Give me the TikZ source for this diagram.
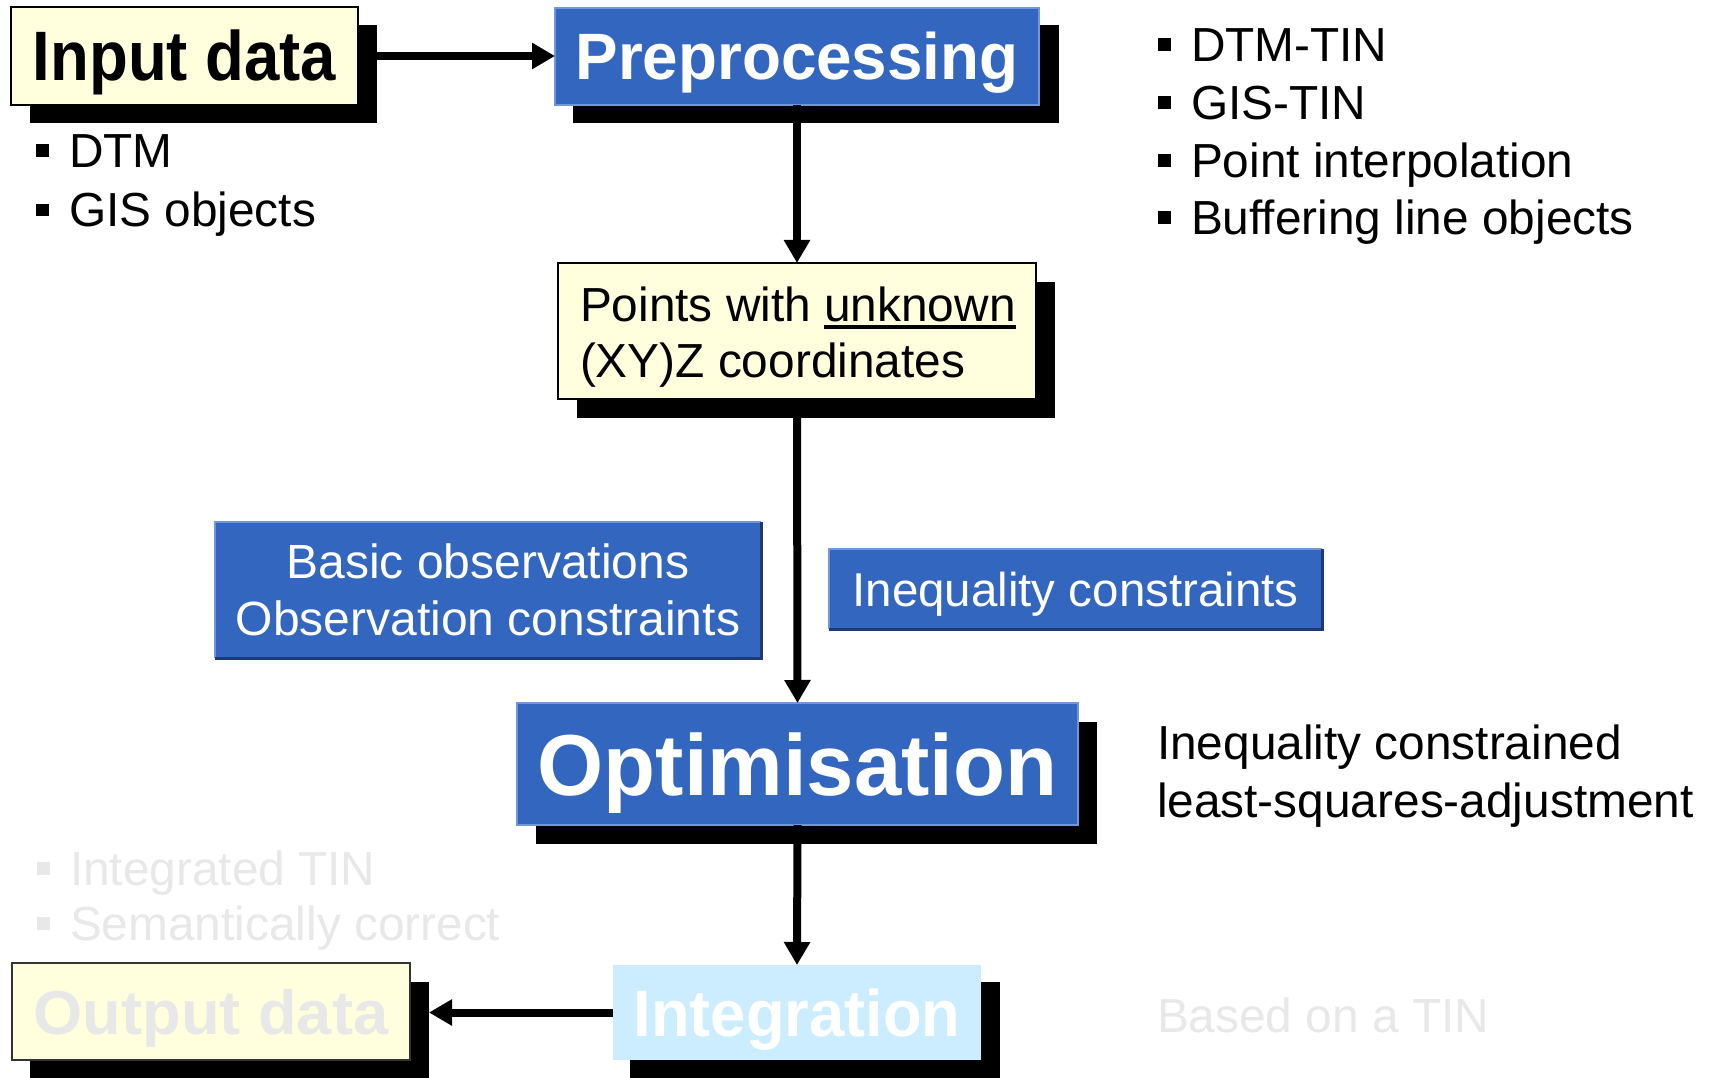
\documentclass[tikz,border=0pt]{standalone}
\usepackage{fontspec}
\usepackage{graphicx}
\setmainfont{Liberation Sans}
\usetikzlibrary{arrows.meta}
\definecolor{boxblue}{RGB}{51,102,190}
\definecolor{edgelight}{RGB}{112,150,222}
\definecolor{edgedark}{RGB}{28,58,118}
\definecolor{paleyellow}{RGB}{255,255,221}
\definecolor{paleblue}{RGB}{204,236,255}
\definecolor{ghost}{RGB}{232,232,232}
\newcommand\fs[1]{\fontsize{#1}{#1}\selectfont}
\newcommand\bul{\rule[10.5pt]{13pt}{13pt}\hspace{20pt}}
\newcommand\myul[1]{\vtop{\hbox{#1}\kern4pt\hrule height 3.5pt}}
\begin{document}
\begin{tikzpicture}[x=1pt,y=-1pt,
  shadowbox/.style={fill=black,inner sep=0pt,outer sep=0pt},
  yellowbox/.style={fill=paleyellow,draw=black,line width=1.5pt,inner sep=0pt,outer sep=0pt},
  bluebox/.style={fill=boxblue,draw=edgelight,line width=1.5pt,inner sep=0pt,outer sep=0pt,text=white},
  flatbox/.style={fill=boxblue,inner sep=0pt,outer sep=0pt,text=white},
  plain/.style={inner sep=0pt,outer sep=0pt,anchor=base west,font=\fs{47.8}},
  conn/.style={line width=8pt,-{Triangle[length=23pt,width=25pt]}},
]
\useasboundingbox (0,0) rectangle (1711,1078);
\fill[white] (0,0) rectangle (1711,1078);

% shadows
\node[shadowbox,minimum width=347pt,minimum height=98pt] (inS) at (203.5,74) {};
\node[shadowbox,minimum width=486pt,minimum height=98pt] (prepS) at (816,74) {};
\node[shadowbox,minimum width=478pt,minimum height=136pt] (ptsS) at (816,350) {};
\node[shadowbox,minimum width=561pt,minimum height=122pt] (optS) at (816,783) {};
\node[shadowbox,minimum width=370pt,minimum height=96pt] (integS) at (815,1030) {};
\node[shadowbox,minimum width=399pt,minimum height=96pt] (outS) at (229.5,1030) {};

% boxes
\node[yellowbox,minimum width=347pt,minimum height=98pt,font=\bfseries\fs{70},text height=50pt,text depth=0pt] (in) at (184.5,56) {\scalebox{0.907}[1]{Input data}};
\node[bluebox,minimum width=484pt,minimum height=97pt,font=\bfseries\fs{65.6},text height=47pt,text depth=0pt] (prep) at (797,56.5) {\scalebox{0.972}[1]{Preprocessing}};
\node[yellowbox,minimum width=478pt,minimum height=136pt] (pts) at (797,331) {};
\node[plain] (pt1) at (580,321) {Points with \myul{unknown}};
\node[plain] (pt2) at (580,377) {(XY)Z coordinates};

\node[flatbox,minimum width=546pt,minimum height=136pt] (basic) at (488,590) {};
\draw[edgelight,line width=2.5pt] (basic.south west) -- (basic.north west) -- (basic.north east);
\draw[edgedark,line width=3pt] (basic.north east) -- (basic.south east) -- (basic.south west);
\node[plain,anchor=base,font=\fs{48},text=white] (b1) at (488,578) {Basic observations};
\node[plain,anchor=base,font=\fs{48},text=white] (b2) at (488,635) {Observation constraints};

\node[flatbox,minimum width=493pt,minimum height=80pt,font=\fs{47.5},text height=34pt,text depth=0pt] (ineq) at (1075.5,589) {Inequality constraints};
\draw[edgelight,line width=2.5pt] (ineq.south west) -- (ineq.north west) -- (ineq.north east);
\draw[edgedark,line width=3pt] (ineq.north east) -- (ineq.south east) -- (ineq.south west);

\node[bluebox,minimum width=561pt,minimum height=122pt,font=\bfseries\fs{86.6},text height=62pt,text depth=0pt] (opt) at (797.5,764) {\scalebox{0.982}[1]{Optimisation}};
\node[fill=paleblue,inner sep=0pt,outer sep=0pt,text=white,minimum width=368pt,minimum height=95pt,font=\bfseries\fs{65.6},text height=47pt,text depth=0pt] (integ) at (797,1012.5) {\scalebox{0.965}[1]{Integration}};
\node[yellowbox,draw=black!80,minimum width=398pt,minimum height=97pt,text=ghost,font=\bfseries\fs{62},text height=45pt,text depth=0pt] (out) at (211,1011.5) {\scalebox{1.02}[1]{Output data}};

% connectors
\draw[conn] (in.center -| inS.east) -- (in.center -| prep.west);
\draw[conn] (prep.south) -- (pts.north);
\draw[conn] (pts.south) -- (opt.north);
\draw[conn] (opt.south) -- (integ.north);
\draw[conn] (integ.west) -- (outS.east |- integ.west);

% bullet texts
\node[plain] (l1) at (36,168) {\bul DTM};
\node[plain] (l2) at (36,227) {\bul GIS objects};
\node[plain] (r1) at (1158,62) {\bul DTM-TIN};
\node[plain] (r2) at (1158,120) {\bul GIS-TIN};
\node[plain] (r3) at (1158,178) {\bul Point interpolation};
\node[plain] (r4) at (1158,235) {\bul Buffering line objects};
\node[plain,text=ghost] (g1) at (37,885) {\bul Integrated TIN};
\node[plain,text=ghost] (g2) at (37,940) {\bul Semantically correct};

\node[plain,font=\fs{47.8}] (ic1) at (1157,759) {Inequality constrained};
\node[plain,font=\fs{47.8}] (ic2) at (1157,817) {least-squares-adjustment};
\node[plain,text=ghost] (based) at (1157,1032) {Based on a TIN};
\end{tikzpicture}
\end{document}
